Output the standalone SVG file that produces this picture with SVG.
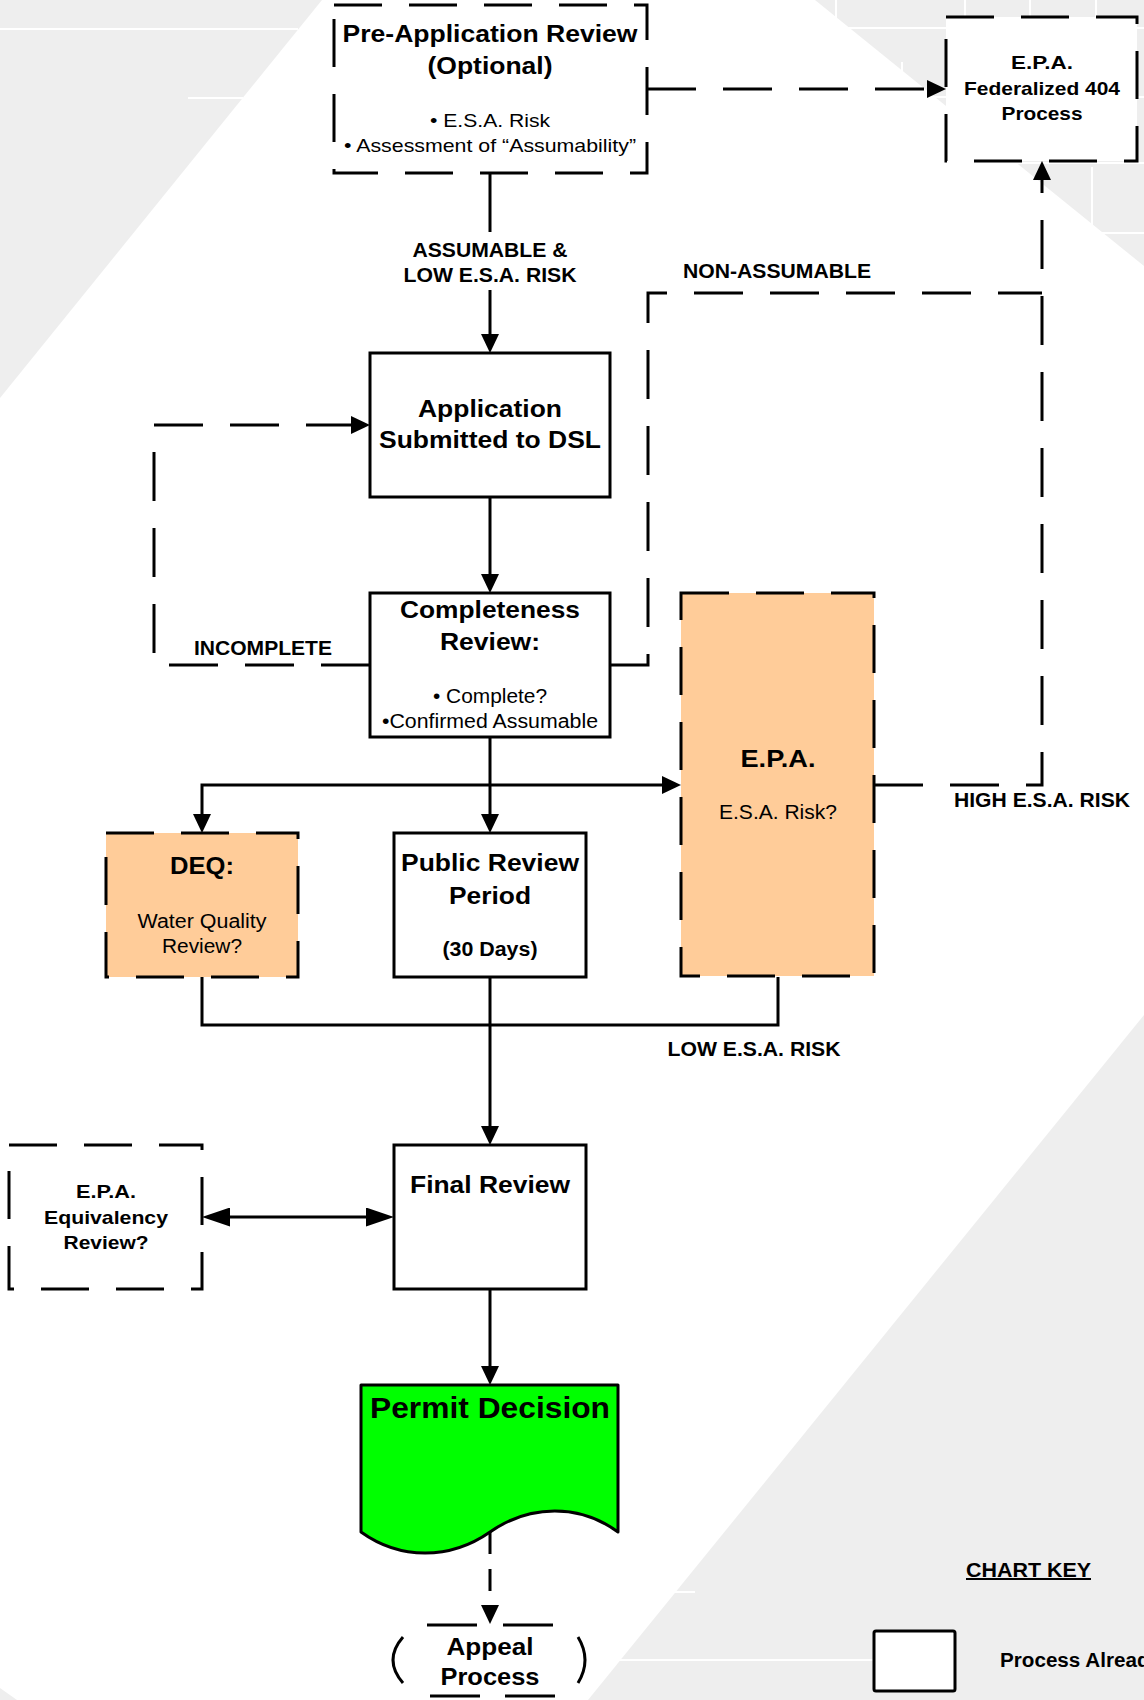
<svg xmlns="http://www.w3.org/2000/svg" width="1144" height="1700" viewBox="0 0 1144 1700">
<defs>
<style>
.bg{fill:#eeeeee}
.gl{stroke:#ffffff;stroke-width:2;fill:none}
.box{fill:#ffffff;stroke:#000;stroke-width:3}
.peach{fill:#ffcc99}
.dbox{stroke-dasharray:48 27}
.conn{fill:none;stroke:#000;stroke-width:3}
.dash{stroke-dasharray:49 27}
.sdash{stroke-dasharray:22 15}
text{font-family:"Liberation Sans",Arial,Helvetica,sans-serif;fill:#000;text-anchor:middle}
.b{font-weight:bold}
.st{text-anchor:start}
</style>
<marker id="arr" viewBox="0 0 19 18" refX="0" refY="9" markerWidth="19" markerHeight="18" markerUnits="userSpaceOnUse" orient="auto">
<path d="M0,0 L19,9 L0,18 z" fill="#000"/>
</marker>
<marker id="arrL" viewBox="0 0 28 19" refX="0" refY="9.5" markerWidth="28" markerHeight="19" markerUnits="userSpaceOnUse" orient="auto-start-reverse">
<path d="M0,0 L28,9.5 L0,19 z" fill="#000"/>
</marker>
</defs>

<g id="background">
<rect x="0" y="0" width="1144" height="1700" fill="#ffffff"/>
<polygon class="bg" points="0,0 322,0 0,398"/>
<polygon class="bg" points="815,0 1144,0 1144,266"/>
<polygon class="bg" points="1144,1015 1144,1700 588,1700"/>
<polygon class="bg" points="0,1688 17,1700 0,1700"/>
<line class="gl" x1="0" y1="29" x2="298" y2="29"/>
<line class="gl" x1="188" y1="98" x2="243" y2="98"/>
<line class="gl" x1="836" y1="28" x2="1144" y2="28"/>
<line class="gl" x1="870" y1="97" x2="1144" y2="97"/>
<line class="gl" x1="940" y1="163" x2="1144" y2="163"/>
<line class="gl" x1="1000" y1="233" x2="1144" y2="233"/>
<line class="gl" x1="836" y1="0" x2="836" y2="28"/>
<line class="gl" x1="965" y1="0" x2="965" y2="28"/>
<line class="gl" x1="1030" y1="0" x2="1030" y2="28"/>
<line class="gl" x1="1096" y1="0" x2="1096" y2="28"/>
<line class="gl" x1="902" y1="62" x2="902" y2="97"/>
<line class="gl" x1="1092" y1="167" x2="1092" y2="233"/>
<line class="gl" x1="660" y1="1592" x2="695" y2="1592"/>
<line class="gl" x1="600" y1="1660" x2="874" y2="1660"/>
</g>

<g id="connectors">
<path class="conn" d="M490,173 V232"/>
<path class="conn" d="M490,290 V334" marker-end="url(#arr)"/>
<path class="conn dash" d="M647,89 H927" marker-end="url(#arr)"/>
<path class="conn" d="M490,497 V574" marker-end="url(#arr)"/>
<path class="conn dash" d="M370,665 H154 V425 H351" marker-end="url(#arr)"/>
<path class="conn dash" d="M610,665 H648 V293 H1042"/>
<path class="conn dash" d="M874,785 H1042 V180" marker-end="url(#arr)"/>
<path class="conn" d="M490,737 V814" marker-end="url(#arr)"/>
<path class="conn" d="M490,785 H662" marker-end="url(#arr)"/>
<path class="conn" d="M490,785 H202 V814" marker-end="url(#arr)"/>
<path class="conn" d="M202,977 V1025 H778 V977"/>
<path class="conn" d="M490,977 V1126" marker-end="url(#arr)"/>
<path class="conn" d="M490,1289 V1366" marker-end="url(#arr)"/>
<path class="conn" d="M230,1217 H366" marker-start="url(#arrL)" marker-end="url(#arrL)"/>
<path class="conn sdash" d="M490,1532 V1605" marker-end="url(#arr)"/>
<text class="b" x="490" y="257" font-size="20" textLength="155" lengthAdjust="spacingAndGlyphs">ASSUMABLE &amp;</text>
<text class="b" x="490" y="282" font-size="20" textLength="173" lengthAdjust="spacingAndGlyphs">LOW E.S.A. RISK</text>
<text class="b" x="777" y="278" font-size="20" textLength="188" lengthAdjust="spacingAndGlyphs">NON-ASSUMABLE</text>
<text class="b" x="263" y="655" font-size="20" textLength="138" lengthAdjust="spacingAndGlyphs">INCOMPLETE</text>
<text class="b" x="1042" y="807" font-size="20" textLength="176" lengthAdjust="spacingAndGlyphs">HIGH E.S.A. RISK</text>
<text class="b" x="754" y="1056" font-size="20" textLength="173" lengthAdjust="spacingAndGlyphs">LOW E.S.A. RISK</text>
</g>

<g id="pre-application">
<rect class="box dbox" x="334" y="5" width="313" height="168"/>
<text class="b" x="490" y="42" font-size="24" textLength="295" lengthAdjust="spacingAndGlyphs">Pre-Application Review</text>
<text class="b" x="490" y="74" font-size="24" textLength="125" lengthAdjust="spacingAndGlyphs">(Optional)</text>
<text x="490" y="127" font-size="19" textLength="120" lengthAdjust="spacingAndGlyphs">• E.S.A. Risk</text>
<text x="490" y="152" font-size="19" textLength="292" lengthAdjust="spacingAndGlyphs">• Assessment of “Assumability”</text>
</g>

<g id="epa-federalized-404">
<rect class="box dbox" x="946" y="17" width="191" height="144"/>
<text class="b" x="1042" y="69" font-size="19" textLength="62" lengthAdjust="spacingAndGlyphs">E.P.A.</text>
<text class="b" x="1042" y="95" font-size="19" textLength="156" lengthAdjust="spacingAndGlyphs">Federalized 404</text>
<text class="b" x="1042" y="120" font-size="19" textLength="81" lengthAdjust="spacingAndGlyphs">Process</text>
</g>

<g id="application-submitted">
<rect class="box" x="370" y="353" width="240" height="144"/>
<text class="b" x="490" y="417" font-size="24" textLength="144" lengthAdjust="spacingAndGlyphs">Application</text>
<text class="b" x="490" y="448" font-size="24" textLength="222" lengthAdjust="spacingAndGlyphs">Submitted to DSL</text>
</g>

<g id="completeness-review">
<rect class="box" x="370" y="593" width="240" height="144"/>
<text class="b" x="490" y="618" font-size="24" textLength="180" lengthAdjust="spacingAndGlyphs">Completeness</text>
<text class="b" x="490" y="650" font-size="24" textLength="100" lengthAdjust="spacingAndGlyphs">Review:</text>
<text x="490" y="703" font-size="19.5" textLength="114" lengthAdjust="spacingAndGlyphs">• Complete?</text>
<text x="490" y="728" font-size="19.5" textLength="216" lengthAdjust="spacingAndGlyphs">•Confirmed Assumable</text>
</g>

<g id="epa-esa-risk">
<rect class="box peach dbox" x="681" y="593" width="193" height="383"/>
<text class="b" x="778" y="767" font-size="24" textLength="75" lengthAdjust="spacingAndGlyphs">E.P.A.</text>
<text x="778" y="819" font-size="20" textLength="118" lengthAdjust="spacingAndGlyphs">E.S.A. Risk?</text>
</g>

<g id="deq">
<rect class="box peach dbox" x="106" y="833" width="192" height="144"/>
<text class="b" x="202" y="874" font-size="24" textLength="64" lengthAdjust="spacingAndGlyphs">DEQ:</text>
<text x="202" y="928" font-size="20" textLength="129" lengthAdjust="spacingAndGlyphs">Water Quality</text>
<text x="202" y="953" font-size="20" textLength="80" lengthAdjust="spacingAndGlyphs">Review?</text>
</g>

<g id="public-review">
<rect class="box" x="394" y="833" width="192" height="144"/>
<text class="b" x="490" y="871" font-size="24" textLength="178" lengthAdjust="spacingAndGlyphs">Public Review</text>
<text class="b" x="490" y="904" font-size="24" textLength="82" lengthAdjust="spacingAndGlyphs">Period</text>
<text class="b" x="490" y="956" font-size="19.5" textLength="95" lengthAdjust="spacingAndGlyphs">(30 Days)</text>
</g>

<g id="epa-equivalency">
<rect class="box dbox" x="9" y="1145" width="193" height="144"/>
<text class="b" x="106" y="1198" font-size="19" textLength="60" lengthAdjust="spacingAndGlyphs">E.P.A.</text>
<text class="b" x="106" y="1224" font-size="19" textLength="124" lengthAdjust="spacingAndGlyphs">Equivalency</text>
<text class="b" x="106" y="1249" font-size="19" textLength="85" lengthAdjust="spacingAndGlyphs">Review?</text>
</g>

<g id="final-review">
<rect class="box" x="394" y="1145" width="192" height="144"/>
<text class="b" x="490" y="1193" font-size="24" textLength="160" lengthAdjust="spacingAndGlyphs">Final Review</text>
</g>

<g id="permit-decision">
<path d="M361,1385 H618 V1532 C580,1504 530,1504 490,1532 C450,1560 400,1560 361,1532 Z" fill="#00ff00" stroke="#000" stroke-width="3" stroke-linejoin="round"/>
<text class="b" x="490" y="1418" font-size="29" textLength="240" lengthAdjust="spacingAndGlyphs">Permit Decision</text>
</g>

<g id="appeal-process">
<path class="conn" d="M427,1625 H477 M503,1625 H553 M430,1696 H480 M505,1696 H555 M403,1637 Q383,1660 403,1683 M578,1637 Q592,1660 578,1683"/>
<text class="b" x="490" y="1655" font-size="24" textLength="87" lengthAdjust="spacingAndGlyphs">Appeal</text>
<text class="b" x="490" y="1685" font-size="24" textLength="99" lengthAdjust="spacingAndGlyphs">Process</text>
</g>

<g id="chart-key">
<text class="b st" x="966" y="1577" font-size="20" textLength="125" lengthAdjust="spacingAndGlyphs" text-decoration="underline">CHART KEY</text>
<rect class="box" x="874" y="1631" width="81" height="60" rx="2"/>
<text class="b st" x="1000" y="1667" font-size="20" textLength="161" lengthAdjust="spacingAndGlyphs">Process Already</text>
</g>
</svg>
